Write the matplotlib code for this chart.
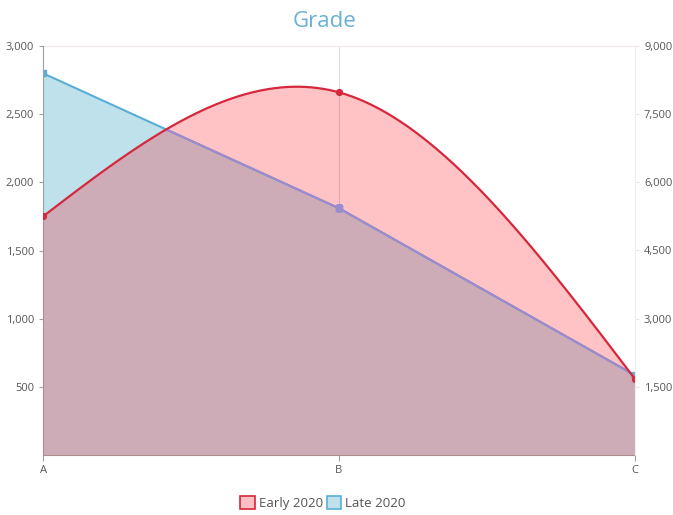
import numpy as np
import matplotlib
matplotlib.use("Agg")
import matplotlib.pyplot as plt
from matplotlib.patches import Patch
from matplotlib.ticker import FuncFormatter

# ── data ──────────────────────────────────────────────────────────────────────
categories = ["A", "B", "C"]
early_2020 = [1750, 2660, 557]
late_2020  = [2800, 1810, 585]
left_ticks  = [500, 1000, 1500, 2000, 2500, 3000]
right_ticks = [1500, 3000, 4500, 6000, 7500, 9000]

RED_LINE  = "#d5283c"
BLUE_LINE = "#5aaed6"
BLUE_UNDER = "#9a8cd0"   # blue line as seen through the red fill
BLUE_FILL = "#bee1ec"
TEXT_COL  = "#555555"
AXIS_COL  = "#a0a0a0"

plt.rcParams["font.family"] = ["Open Sans", "DejaVu Sans"]


def natural_spline(y, n=200):
    """Natural cubic spline through equally spaced points (x = 0..len-1)."""
    y = np.asarray(y, dtype=float)
    k = len(y)
    A = np.zeros((k, k))
    rhs = np.zeros(k)
    A[0, 0] = A[-1, -1] = 1.0
    for i in range(1, k - 1):
        A[i, i - 1:i + 2] = [1, 4, 1]
        rhs[i] = 6 * (y[i + 1] - 2 * y[i] + y[i - 1])
    M = np.linalg.solve(A, rhs)
    xs = np.linspace(0, k - 1, n)
    ys = np.empty_like(xs)
    for j, x in enumerate(xs):
        i = min(int(x), k - 2)
        t = x - i
        ys[j] = ((1 - t) * y[i] + t * y[i + 1]
                 + M[i] / 6 * ((1 - t) ** 3 - (1 - t))
                 + M[i + 1] / 6 * (t ** 3 - t))
    return xs, ys


x = np.arange(len(categories))

fig = plt.figure(figsize=(6.73, 5.15), dpi=100)
ax = fig.add_axes([43 / 673, 1 - 455 / 515, 592 / 673, 409 / 515])

# late 2020 (straight line, under)
ax.fill_between(x, late_2020, 0, color=BLUE_FILL, lw=0, zorder=1)
ax.plot(x, late_2020, color=BLUE_LINE, lw=1.5, zorder=2)
ax.plot(x, late_2020, "s", color=BLUE_LINE, ms=4, zorder=2)

# early 2020 (smooth spline, on top with translucent fill)
xs, ys = natural_spline(early_2020)
red_fill = ax.fill_between(xs, ys, 0, color=(1.0, 0.02, 0.08), alpha=0.24,
                           lw=0, zorder=3)

# part of the blue line lying under the red fill shows lavender
clip = red_fill.get_paths()[0]
for ln in (ax.plot(x, late_2020, color=BLUE_UNDER, lw=1.5, zorder=3.5)
           + ax.plot(x, late_2020, "s", color=BLUE_UNDER, ms=4, zorder=3.5)):
    ln.set_clip_path(clip, ax.transData)

ax.plot(xs, ys, color=RED_LINE, lw=1.6, zorder=4)
ax.plot(x, early_2020, "o", color=RED_LINE, ms=4.2, zorder=5)

ax.set_xlim(0, 2)
ax.set_ylim(0, 3000)
ax.set_xticks(x)
ax.set_xticklabels(categories)
ax.set_yticks(left_ticks)
ax.yaxis.set_major_formatter(FuncFormatter(lambda v, p: f"{int(v):,}"))

ax.axvline(1, color="#dddddd", lw=0.8, zorder=0)
ax.axhline(3000, color="#f2e6e8", lw=0.8, zorder=0)

for s in ["top", "right"]:
    ax.spines[s].set_visible(False)
ax.spines["left"].set_color(AXIS_COL)
ax.spines["bottom"].set_color(AXIS_COL)
ax.tick_params(axis="both", colors=AXIS_COL, labelcolor=TEXT_COL,
               labelsize=8, length=4, width=0.8)
ax.tick_params(axis="y", length=3)

ax2 = ax.twinx()
ax2.set_ylim(0, 9000)
ax2.set_yticks(right_ticks)
ax2.yaxis.set_major_formatter(FuncFormatter(lambda v, p: f"{int(v):,}"))
for s in ["top", "left", "bottom"]:
    ax2.spines[s].set_visible(False)
ax2.spines["right"].set_color("#eeeeee")
ax2.tick_params(axis="y", colors="#e6e6e6", labelcolor=TEXT_COL,
                labelsize=8, length=3, width=0.8)

fig.text(0.482, 0.958, "Grade", ha="center", va="center",
         fontsize=16, color="#6ab0d4")

handles = [
    Patch(facecolor="#ffc0c5", edgecolor=RED_LINE, lw=1.2, label="Early 2020"),
    Patch(facecolor=BLUE_FILL, edgecolor=BLUE_LINE, lw=1.2, label="Late 2020"),
]
fig.legend(handles=handles, loc="center", bbox_to_anchor=(0.48, 0.023),
           ncol=2, frameon=False, fontsize=9.5, handlelength=1.1,
           handleheight=1.1, handletextpad=0.3, columnspacing=0.3,
           labelcolor=TEXT_COL)

fig.savefig("out.png", dpi=100)
